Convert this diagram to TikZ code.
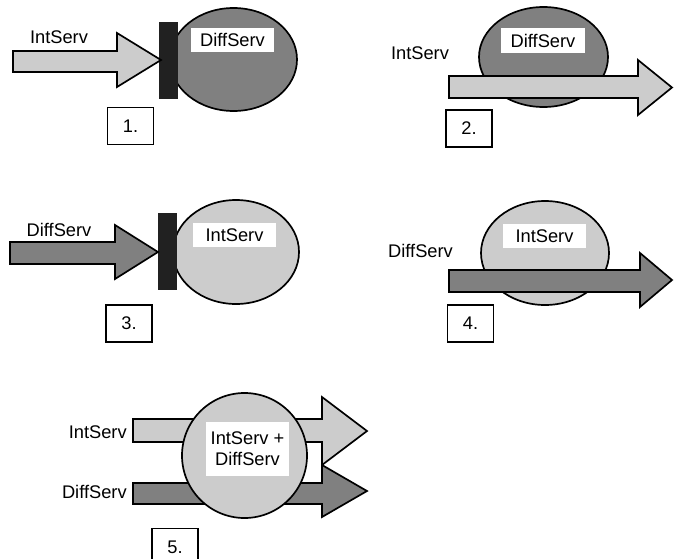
\documentclass[tikz,border=0pt]{standalone}
\usepackage{fontspec}
\setmainfont{Liberation Sans}
\definecolor{lightgr}{gray}{0.8}
\definecolor{darkgr}{gray}{0.5}
\definecolor{bargr}{gray}{0.13}
\tikzset{
  outl/.style={draw=black, line width=1.2pt, line join=miter},
  servtext/.style={font=\fontsize{13}{15}\selectfont, inner sep=0pt},
  whitebox/.style={fill=white, font=\fontsize{13}{15}\selectfont, minimum width=2.08cm, minimum height=0.6cm, inner sep=0pt},
  numbox/.style={draw=black, line width=1.2pt, fill=white, font=\fontsize{13}{15}\selectfont, minimum width=1.15cm, minimum height=0.93cm, inner sep=0pt}
}

\begin{document}
\begin{tikzpicture}[x=0.025cm, y=-0.025cm]
\useasboundingbox (0,0) rectangle (674,558);

% 1.
\draw[outl, fill=darkgr] (233.5,59.5) ellipse (63.5 and 51.5);
\fill[bargr] (159,22) rectangle (178,99);
\draw[outl, fill=lightgr] (13,51) -- (117,51) -- (117,33) -- (161,60) -- (117,87) -- (117,72) -- (13,72) -- cycle;
\node[servtext] (lab1) at (59,37) {IntServ};
\node[whitebox] (box1) at (232.5,40) {DiffServ};
\node[numbox] (num1) at (130.5,126) {1.};

% 2.
\draw[outl, fill=darkgr] (543.5,57) ellipse (64.5 and 50);
\draw[outl, fill=lightgr] (449,76) -- (638,76) -- (638,60) -- (672,87.5) -- (638,115) -- (638,98) -- (449,98) -- cycle;
\node[servtext] (lab2) at (420,53) {IntServ};
\node[whitebox] (box2) at (543,40.5) {DiffServ};
\node[numbox] (num2) at (469,128.5) {2.};

% 3.
\draw[outl, fill=lightgr] (236,252) ellipse (63 and 52);
\fill[bargr] (158,213) rectangle (177,290);
\draw[outl, fill=darkgr] (10,242) -- (115,242) -- (115,225) -- (158,252) -- (115,279) -- (115,264) -- (10,264) -- cycle;
\node[servtext] (lab3) at (59,230) {DiffServ};
\node[whitebox] (box3) at (234.5,235) {IntServ};
\node[numbox] (num3) at (129,323.5) {3.};

% 4.
\draw[outl, fill=lightgr] (545,253) ellipse (64 and 52);
\draw[outl, fill=darkgr] (449,270) -- (640,270) -- (640,253) -- (672,280) -- (640,307) -- (640,292) -- (449,292) -- cycle;
\node[servtext] (lab4) at (420.5,251) {DiffServ};
\node[whitebox] (box4) at (544.5,236) {IntServ};
\node[numbox] (num4) at (470.5,323.5) {4.};

% 5.
\draw[outl, fill=lightgr] (133,419) -- (322,419) -- (322,397) -- (367,431) -- (322,465) -- (322,442) -- (133,442) -- cycle;
\draw[outl, fill=darkgr] (133,483) -- (322,483) -- (322,465) -- (367,491) -- (322,517) -- (322,504) -- (133,504) -- cycle;
\draw[outl, fill=lightgr] (244.5,455.5) circle (62.5);
\node[whitebox, minimum height=1.35cm, align=center] (box5) at (247.5,449) {IntServ +\\DiffServ};
\node[servtext, anchor=east] (lab5a) at (127,432) {IntServ};
\node[servtext, anchor=east] (lab5b) at (127,492) {DiffServ};
\node[numbox] (num5) at (175,547) {5.};
\end{tikzpicture}
\end{document}
